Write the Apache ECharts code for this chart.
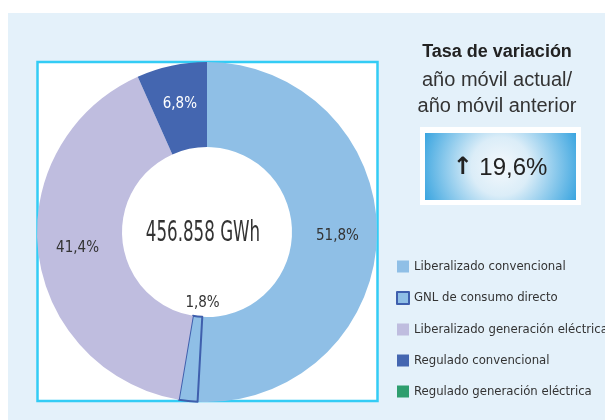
<!DOCTYPE html>
<html>
<head>
<meta charset="utf-8">
<script src="https://cdn.jsdelivr.net/npm/echarts@6/dist/echarts.min.js"></script>
<style>
  html, body { margin: 0; padding: 0; background: #fff; }
  #main { width: 605px; height: 420px; }
</style>
</head>
<body>
<div id="main"></div>
<script>
// datos del gráfico
const categories = [
  'Liberalizado convencional',
  'GNL de consumo directo',
  'Liberalizado generación eléctrica',
  'Regulado convencional',
  'Regulado generación eléctrica'
];
const shares = [51.8, 1.8, 41.4, 6.8, 0];
const colors = ['#8fbfe6', '#8fbfe6', '#bfbddf', '#4466b0', '#2e9e6e'];
const totalText = '456.858 GWh';
const rateValue = '19,6%';

const narrow = '"DejaVu Sans Condensed", "Liberation Sans Narrow", sans-serif';
const sans = '"Liberation Sans", Arial, sans-serif';

const chart = echarts.init(document.getElementById('main'));

const pieData = categories.map(function (name, i) {
  const item = {
    name: name,
    value: shares[i],
    itemStyle: { color: colors[i] }
  };
  if (i === 1) {
    // GNL: borde azul oscuro y etiqueta dentro del hueco
    item.itemStyle.borderColor = '#3f5fad';
    item.itemStyle.borderWidth = 2;
    item.label = { offset: [10, -59] };
  }
  if (i === 3) {
    item.label = { color: '#fff' };
  }
  if (shares[i] === 0) {
    item.label = { show: false };
  }
  return item;
});

const option = {
  animation: false,
  color: colors,
  graphic: [
    { type: 'rect', z: -10, shape: { x: 8, y: 13, width: 597, height: 407 }, style: { fill: '#e4f1fa' } },
    { type: 'rect', z: -9, shape: { x: 37.5, y: 62, width: 340, height: 339 },
      style: { fill: '#fff', stroke: '#33ccf5', lineWidth: 2.5 } },
    { type: 'text', z: 10, x: 203, y: 233, scaleX: 0.64,
      style: { text: totalText, font: '29px ' + narrow, fill: '#333', align: 'center', verticalAlign: 'middle' } },
    { type: 'text', x: 497, y: 52,
      style: { text: 'Tasa de variación', font: 'bold 18px ' + sans, fill: '#222', align: 'center', verticalAlign: 'middle' } },
    { type: 'text', x: 497, y: 80,
      style: { text: 'año móvil actual/', font: '20px ' + sans, fill: '#333', align: 'center', verticalAlign: 'middle' } },
    { type: 'text', x: 497, y: 106,
      style: { text: 'año móvil anterior', font: '20px ' + sans, fill: '#333', align: 'center', verticalAlign: 'middle' } },
    { type: 'rect', shape: { x: 420, y: 127, width: 161, height: 78 }, style: { fill: '#fff' } },
    { type: 'rect', shape: { x: 425, y: 133, width: 151, height: 67 },
      style: { fill: new echarts.graphic.RadialGradient(0.5, 0.5, 1.25, [
        { offset: 0, color: '#f4f8fc' },
        { offset: 0.35, color: '#dbedf8' },
        { offset: 1, color: '#36a3df' }
      ]) } },
    { type: 'text', x: 500, y: 168,
      style: {
        text: '{a|↑} ' + rateValue,
        font: '24px ' + sans, fill: '#222', align: 'center', verticalAlign: 'middle',
        rich: { a: { font: 'bold 24px "DejaVu Sans", sans-serif', fill: '#222' } }
      } }
  ],
  legend: {
    orient: 'vertical',
    left: 396,
    top: 260,
    padding: 0,
    itemWidth: 12,
    itemHeight: 12,
    itemGap: 18,
    icon: 'rect',
    textStyle: { fontFamily: narrow, fontSize: 13, color: '#333' },
    data: categories.map(function (name, i) {
      const d = { name: name, itemStyle: { color: colors[i] } };
      if (i === 1) { d.itemStyle.borderColor = '#3f5fad'; d.itemStyle.borderWidth = 2; }
      return d;
    })
  },
  series: [{
    type: 'pie',
    center: [207, 232],
    radius: [85, 170],
    startAngle: 90,
    clockwise: true,
    avoidLabelOverlap: false,
    label: {
      show: true,
      position: 'inside',
      fontFamily: narrow,
      fontSize: 15,
      color: '#333',
      formatter: function (p) { return String(p.value).replace('.', ',') + '%'; }
    },
    labelLine: { show: false },
    emphasis: { disabled: true },
    data: pieData
  }]
};

chart.setOption(option);
</script>
</body>
</html>
